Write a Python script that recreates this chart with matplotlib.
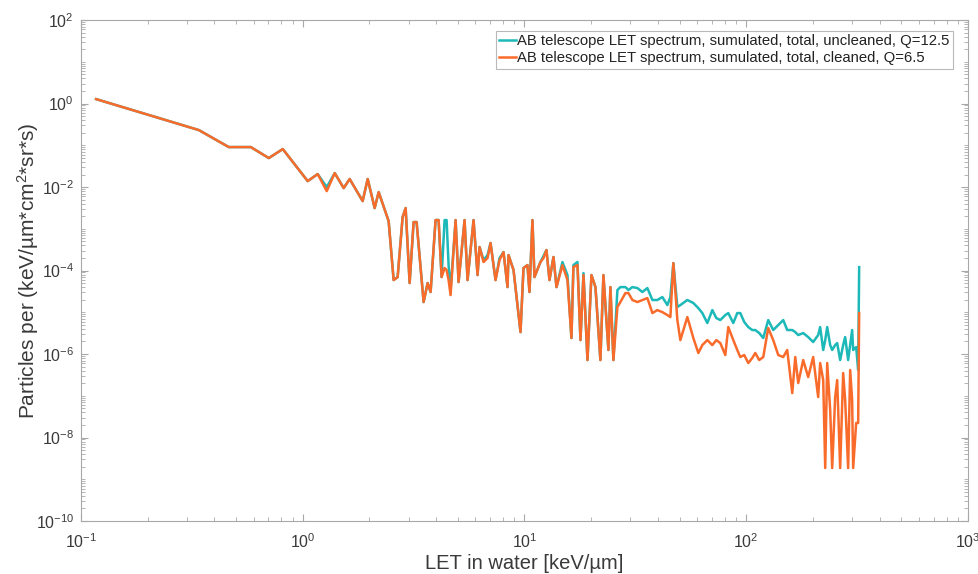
import numpy as np
import matplotlib
matplotlib.use("Agg")
import matplotlib.pyplot as plt
from matplotlib.ticker import LogLocator, FixedLocator, LogFormatterSciNotation, NullFormatter

plt.rcParams['font.family'] = ['Liberation Sans', 'DejaVu Sans']
plt.rcParams['mathtext.fontset'] = 'custom'
plt.rcParams['mathtext.rm'] = 'Liberation Sans'
plt.rcParams['mathtext.default'] = 'regular'

# LET bins [keV/um] and spectra [particles per keV/um*cm2*sr*s]
let_kev_um = [
    0.117, 0.340, 0.464, 0.583, 0.703, 0.813, 1.053, 1.168, 1.283, 1.394,
    1.530, 1.628, 1.863, 1.963, 2.110, 2.200, 2.440, 2.570, 2.679, 2.821,
    2.911, 3.034, 3.162, 3.262, 3.508, 3.657, 3.772, 3.972, 4.099, 4.228,
    4.362, 4.453, 4.547, 4.642, 4.890, 5.044, 5.367, 5.536, 5.892, 6.142,
    6.271, 6.537, 6.813, 7.029, 7.403, 7.716, 8.043, 8.383, 8.471, 8.923,
    9.594, 9.897, 10.31, 10.53, 10.86, 11.09, 11.80, 12.18, 12.56, 12.96,
    13.51, 13.94, 14.83, 15.62, 16.28, 16.62, 17.33, 17.88, 18.45, 19.23,
    20.04, 20.89, 21.99, 22.69, 23.90, 24.40, 25.17, 26.24, 27.07, 28.51,
    29.41, 30.65, 32.28, 34.01, 35.82, 37.73, 39.73, 41.84, 44.08, 45.48,
    46.91, 48.90, 50.44, 54.24, 57.72, 60.79, 63.37, 66.74, 70.29, 73.28,
    76.38, 80.44, 82.98, 87.40, 91.08, 93.97, 97.95, 102.1, 106.4, 109.8,
    114.4, 119.3, 125.6, 132.3, 139.4, 146.8, 153.0, 161.2, 166.3, 171.5,
    180.6, 190.2, 200.3, 211.0, 215.4, 222.3, 227.0, 231.7, 239.0, 244.0,
    251.7, 257.0, 265.1, 273.5, 279.2, 288.0, 294.1, 300.2, 303.4, 313.0,
    319.6, 322.9,
]

flux_uncleaned = [
    1.28, 0.232, 0.0908, 0.0908, 0.0495, 0.0813, 0.0139, 0.0205, 0.0100, 0.0216,
    0.00946, 0.0156, 0.00462, 0.0156, 0.00314, 0.00759, 0.00153, 5.92e-5, 6.99e-5, 1.91e-3,
    3.14e-3, 5.02e-5, 1.45e-3, 1.45e-3, 1.76e-5, 5.02e-5, 3.06e-5, 1.62e-3, 1.62e-3, 6.99e-5,
    1.62e-3, 1.62e-3, 1.35e-4, 3.41e-5, 1.62e-3, 5.30e-5, 1.62e-3, 5.92e-5, 1.62e-3, 7.80e-5,
    3.66e-4, 1.78e-4, 2.35e-4, 4.56e-4, 5.92e-5, 1.99e-4, 2.77e-4, 4.02e-5, 2.35e-4, 1.03e-4,
    3.36e-6, 1.15e-4, 1.35e-4, 3.06e-5, 1.62e-3, 6.99e-5, 1.60e-4, 2.23e-4, 3.10e-4, 5.92e-5,
    2.11e-4, 4.02e-5, 1.60e-4, 7.80e-5, 2.42e-6, 1.35e-4, 1.60e-4, 2.16e-6, 8.71e-5, 7.18e-7,
    7.80e-5, 4.02e-5, 7.18e-7, 7.80e-5, 1.25e-6, 4.02e-5, 7.18e-7, 3.41e-5, 4.02e-5, 4.02e-5,
    3.41e-5, 4.02e-5, 3.81e-5, 3.06e-5, 3.81e-5, 1.97e-5, 1.97e-5, 2.32e-5, 1.49e-5, 2.32e-5,
    1.51e-4, 1.34e-5, 1.49e-5, 1.97e-5, 1.67e-5, 1.26e-5, 9.59e-6, 5.53e-6, 1.13e-5, 7.28e-6,
    6.52e-6, 8.59e-6, 9.59e-6, 5.53e-6, 9.59e-6, 9.59e-6, 5.84e-6, 4.43e-6, 3.76e-6, 3.76e-6,
    3.18e-6, 2.42e-6, 6.52e-6, 3.76e-6, 4.95e-6, 6.52e-6, 3.76e-6, 3.76e-6, 3.36e-6, 2.85e-6,
    3.18e-6, 2.55e-6, 1.94e-6, 2.85e-6, 4.43e-6, 1.25e-6, 2.16e-6, 4.43e-6, 1.64e-6, 1.25e-6,
    1.64e-6, 1.83e-6, 7.18e-7, 1.64e-6, 2.55e-6, 7.18e-7, 1.64e-6, 3.76e-6, 1.25e-6, 1.47e-6,
    4.14e-7, 1.21e-4,
]

flux_cleaned = [
    1.28, 0.232, 0.0908, 0.0908, 0.0495, 0.0813, 0.0139, 0.0205, 0.0080, 0.0216,
    0.00946, 0.0156, 0.00462, 0.0156, 0.00314, 0.00759, 0.00153, 5.92e-5, 6.99e-5, 1.91e-3,
    3.14e-3, 5.02e-5, 1.45e-3, 1.45e-3, 1.76e-5, 5.02e-5, 3.06e-5, 1.62e-3, 1.62e-3, 6.99e-5,
    1.15e-4, 1.03e-4, 5.92e-5, 2.59e-5, 1.62e-3, 5.30e-5, 1.62e-3, 5.92e-5, 1.62e-3, 7.80e-5,
    3.66e-4, 1.60e-4, 1.99e-4, 4.56e-4, 5.92e-5, 1.78e-4, 2.77e-4, 4.02e-5, 2.35e-4, 1.03e-4,
    3.36e-6, 1.15e-4, 1.35e-4, 3.06e-5, 1.62e-3, 6.99e-5, 1.60e-4, 1.99e-4, 3.10e-4, 5.92e-5,
    2.11e-4, 4.02e-5, 1.35e-4, 5.92e-5, 2.42e-6, 1.21e-4, 1.35e-4, 2.16e-6, 7.80e-5, 7.18e-7,
    7.80e-5, 4.02e-5, 7.18e-7, 7.80e-5, 1.25e-6, 4.02e-5, 7.18e-7, 1.34e-5, 1.76e-5, 2.89e-5,
    2.89e-5, 1.97e-5, 1.76e-5, 1.97e-5, 2.19e-5, 9.59e-6, 1.13e-5, 1.01e-5, 8.59e-6, 7.69e-6,
    1.51e-4, 6.52e-6, 2.16e-6, 7.69e-6, 2.42e-6, 1.06e-6, 1.64e-6, 2.16e-6, 1.64e-6, 2.16e-6,
    1.83e-6, 9.46e-7, 4.43e-6, 2.16e-6, 1.25e-6, 8.48e-7, 9.46e-7, 6.09e-7, 8.02e-7, 1.06e-6,
    7.18e-7, 8.48e-7, 4.20e-6, 2.16e-6, 9.46e-7, 8.48e-7, 1.25e-6, 1.16e-7, 8.48e-7, 2.02e-7,
    7.18e-7, 2.81e-7, 8.48e-7, 9.34e-8, 6.09e-7, 2.38e-7, 1.86e-9, 6.09e-7, 4.56e-8, 1.86e-9,
    9.34e-8, 2.38e-7, 1.86e-9, 3.51e-7, 7.91e-8, 1.86e-9, 4.14e-7, 7.91e-8, 1.86e-9, 2.23e-8,
    2.23e-8, 9.59e-6,
]

label_uncleaned = 'AB telescope LET spectrum, sumulated, total, uncleaned, Q=12.5'
label_cleaned = 'AB telescope LET spectrum, sumulated, total, cleaned, Q=6.5'

axis_gray = '#a8a8a8'
text_gray = '#3a3a3a'

fig = plt.figure(figsize=(9.79, 5.74), dpi=100)
ax = fig.add_axes([0.0827, 0.0923, 0.9061, 0.8727])

ax.plot(let_kev_um, flux_uncleaned, color='#1db8b8', linewidth=1.8, label=label_uncleaned)
ax.plot(let_kev_um, flux_cleaned, color='#f96b2b', linewidth=1.8, label=label_cleaned)

ax.set_xscale('log')
ax.set_yscale('log')
ax.set_xlim(0.1, 1000)
ax.set_ylim(1e-10, 1e2)

# y labels every second decade, remaining decades as minor ticks
ax.yaxis.set_major_locator(FixedLocator([10.0 ** k for k in range(-10, 3, 2)]))
y_minor = [m * 10.0 ** k for k in range(-10, 2) for m in range(1, 10)]
ax.yaxis.set_minor_locator(FixedLocator([v for v in y_minor if 1e-10 < v < 1e2]))
ax.yaxis.set_major_formatter(LogFormatterSciNotation())
ax.yaxis.set_minor_formatter(NullFormatter())
ax.xaxis.set_major_locator(LogLocator(base=10, numticks=10))
ax.xaxis.set_minor_locator(LogLocator(base=10, subs=np.arange(2, 10), numticks=20))
ax.xaxis.set_minor_formatter(NullFormatter())

for side in ax.spines.values():
    side.set_color(axis_gray)
    side.set_linewidth(0.8)
ax.tick_params(which='both', direction='in', top=True, right=True, color=axis_gray,
               labelcolor=text_gray, labelsize=11.5)
ax.tick_params(which='major', length=5, width=0.8)
ax.tick_params(which='minor', length=3, width=0.6)
ax.tick_params(axis='x', which='major', pad=8)
ax.tick_params(axis='y', which='major', pad=5)

ax.set_xlabel('LET in water [keV/µm]', fontsize=14.5, color=text_gray, labelpad=2)
ax.set_ylabel('Particles per (keV/µm*cm$^2$*sr*s)', fontsize=15, color=text_gray)
ax.yaxis.set_label_coords(-0.045, 0.5)

leg = ax.legend(loc='upper right', bbox_to_anchor=(0.9835, 0.979), fontsize=10.7,
                frameon=True, fancybox=False, handlelength=1.1, handletextpad=0.1,
                borderpad=0.25, labelspacing=0.2, borderaxespad=0.0)
leg.get_frame().set_edgecolor(axis_gray)
leg.get_frame().set_linewidth(0.8)
for txt in leg.get_texts():
    txt.set_color('#222222')

fig.savefig('out.png', dpi=100)
